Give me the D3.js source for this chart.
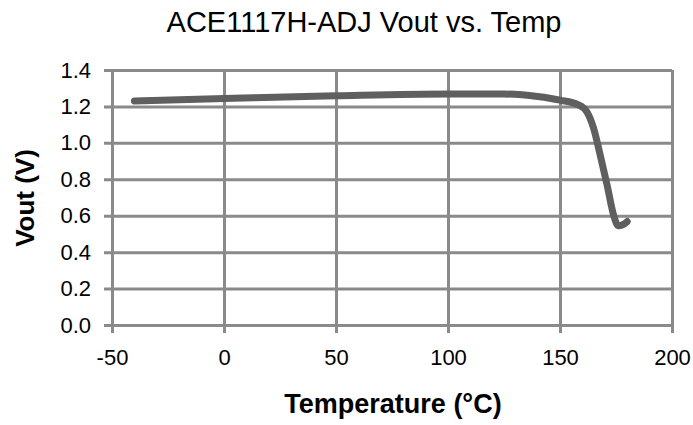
<!DOCTYPE html>
<html>
<head>
<meta charset="utf-8">
<script src="https://cdn.jsdelivr.net/npm/d3@7"></script>
<style>
  body { margin: 0; background: #fff; }
  text { font-family: "Liberation Sans", Arial, sans-serif; fill: #000; }
</style>
</head>
<body>
<script>
// data
const temps = [-40, 0, 50, 100, 125, 140, 150, 158, 162, 165, 168, 171, 174, 176, 178, 180];
const vout  = [1.23, 1.243, 1.258, 1.268, 1.268, 1.255, 1.235, 1.21, 1.17, 1.08, 0.93, 0.77, 0.60, 0.545, 0.55, 0.568];
const xTicks = [-50, 0, 50, 100, 150, 200];
const yTicks = [0, 0.2, 0.4, 0.6, 0.8, 1.0, 1.2, 1.4];

const width = 693, height = 425;
const margin = { top: 70, right: 21, bottom: 100, left: 112 };

const svg = d3.select("body").append("svg")
    .attr("width", width)
    .attr("height", height);

const x = d3.scaleLinear().domain([-50, 200]).range([margin.left, width - margin.right]);
const y = d3.scaleLinear().domain([0, 1.4]).range([height - margin.bottom, margin.top]);

const gridColor = "#8a8a8a";

// y gridlines + ticks
svg.append("g")
    .attr("transform", `translate(${margin.left},0)`)
    .call(d3.axisLeft(y).tickValues(yTicks).tickSize(-(x(200) - x(-50))).tickPadding(21)
        .tickFormat(d3.format(".1f")))
    .call(g => g.select(".domain").remove())
    .call(g => g.selectAll("line").attr("stroke", gridColor).attr("stroke-width", 3).attr("x1", -8))
    .call(g => g.selectAll("text").style("font-size", "22px").attr("fill", "#000"));

// x gridlines + ticks (plain hyphen for negatives)
svg.append("g")
    .attr("transform", `translate(0,${y(0)})`)
    .call(d3.axisBottom(x).tickValues(xTicks).tickSize(-(y(0) - y(1.4))).tickPadding(24)
        .tickFormat(d => String(d)))
    .call(g => g.select(".domain").remove())
    .call(g => g.selectAll("line").attr("stroke", gridColor).attr("stroke-width", 3).attr("y1", 8))
    .call(g => g.selectAll("text").style("font-size", "22px").attr("fill", "#000"));

// curve
const data = temps.map((t, i) => ({ t: t, v: vout[i] }));
const line = d3.line()
    .x(d => x(d.t))
    .y(d => y(d.v))
    .curve(d3.curveMonotoneX);

svg.append("path")
    .datum(data)
    .attr("d", line)
    .attr("fill", "none")
    .attr("stroke", "#5f5f5f")
    .attr("stroke-width", 7)
    .attr("stroke-linecap", "round")
    .attr("stroke-linejoin", "round");

// title
svg.append("text")
    .attr("x", 364)
    .attr("y", 32)
    .attr("text-anchor", "middle")
    .style("font-size", "29px")
    .text("ACE1117H-ADJ Vout vs. Temp");

// axis titles
svg.append("text")
    .attr("x", 393)
    .attr("y", 413)
    .attr("text-anchor", "middle")
    .style("font-size", "27px")
    .style("font-weight", "bold")
    .text("Temperature (°C)");

svg.append("text")
    .attr("transform", "translate(34,198) rotate(-90)")
    .attr("text-anchor", "middle")
    .style("font-size", "26px")
    .style("font-weight", "bold")
    .text("Vout (V)");
</script>
</body>
</html>
